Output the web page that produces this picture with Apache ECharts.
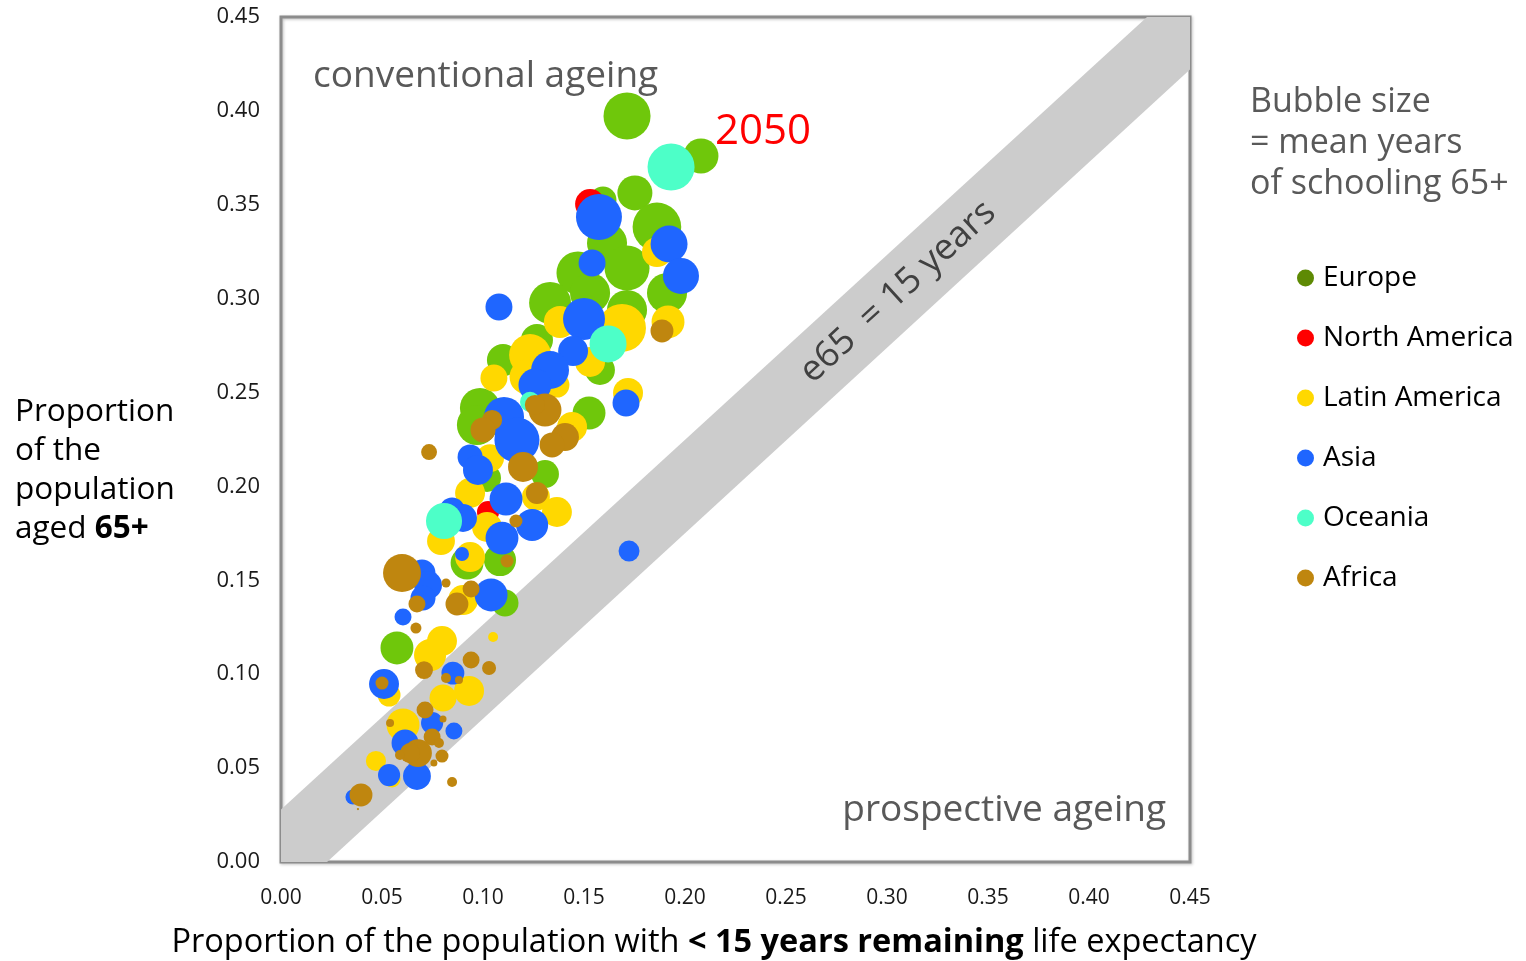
<!DOCTYPE html>
<html>
<head>
<meta charset="utf-8">
<script src="https://cdn.jsdelivr.net/npm/echarts@6/dist/echarts.min.js"></script>
<style>
html,body{margin:0;padding:0;background:#fff;}
#chart{width:1526px;height:961px;}
</style>
</head>
<body>
<div id="chart"></div>
<script>
// ---- data: [x = proportion with <15y remaining LE, y = proportion aged 65+, mean years of schooling 65+]
const regions = ['Europe', 'North America', 'Latin America', 'Asia', 'Oceania', 'Africa'];
const bubbleColors = ['#6FC70B', '#FF0000', '#FFD800', '#1F66FF', '#4DFFC8', '#BF860F'];
const legendColors = ['#5E8A04', '#FF0000', '#FFD800', '#1F66FF', '#4DFFC8', '#BF860F'];

const europe = [
  [0.1713,0.3973,13.1],[0.2079,0.3760,7.25],[0.1752,0.3563,7.25],[0.1594,0.3525,4.3],
  [0.1861,0.3382,14.0],[0.1614,0.3296,9.5],[0.1470,0.3137,10.9],[0.1713,0.3163,12.0],
  [0.1911,0.3030,9.5],[0.1332,0.2977,10.4],[0.1530,0.3030,9.5],[0.1713,0.2940,9.5],
  [0.1267,0.2780,6.1],[0.1099,0.2673,6.1],[0.1579,0.2620,5.3],[0.0985,0.2418,9.5],
  [0.0970,0.2327,9.5],[0.1525,0.2391,6.4],[0.1307,0.2066,4.6],[0.1020,0.2045,4.6],
  [0.0921,0.1592,6.4],[0.1084,0.1608,6.1],[0.1109,0.1379,4.3],[0.0574,0.1140,6.4]
];
const northAmerica = [
  [0.1530,0.3504,5.3],[0.1025,0.1864,2.9]
];
const latinAmerica = [
  [0.1861,0.3248,5.3],[0.1381,0.2876,6.1],[0.1688,0.2844,13.6],[0.1916,0.2876,6.4],
  [0.1233,0.2700,10.4],[0.1530,0.2663,5.3],[0.1054,0.2578,4.3],[0.1218,0.2583,7.25],
  [0.1366,0.2540,3.7],[0.1718,0.2498,5.3],[0.1441,0.2317,5.3],[0.1035,0.2151,4.6],
  [0.0936,0.1965,5.3],[0.1262,0.1944,4.6],[0.1366,0.1864,5.3],[0.1020,0.1784,5.3],
  [0.0792,0.1709,4.6],[0.0936,0.1624,5.3],[0.0901,0.1395,5.3],[0.1050,0.1198,0.59],
  [0.0797,0.1177,5.3],[0.0738,0.1102,6.1],[0.0535,0.0889,3.1],[0.0802,0.0873,4.3],
  [0.0931,0.0911,5.3],[0.0604,0.0730,6.4],[0.0470,0.0538,2.4],[0.0550,0.0442,1.7]
];
const asia = [
  [0.1574,0.3435,12.5],[0.1921,0.3291,8.1],[0.1980,0.3121,7.7],[0.1540,0.3190,4.3],
  [0.1079,0.2956,4.3],[0.1500,0.2892,10.4],[0.1446,0.2721,5.3],[0.1332,0.2620,8.5],
  [0.1257,0.2540,6.4],[0.1708,0.2444,4.3],[0.1104,0.2370,9.5],[0.1168,0.2247,12.0],
  [0.0936,0.2157,3.7],[0.0975,0.2088,5.3],[0.1114,0.1933,6.4],[0.1243,0.1795,6.1],
  [0.0847,0.1875,3.7],[0.0901,0.1832,4.6],[0.1094,0.1725,6.4],[0.0896,0.1640,1.16],
  [0.1723,0.1656,2.6],[0.0698,0.1539,4.3],[0.0728,0.1475,4.6],[0.0703,0.1406,3.7],
  [0.1040,0.1422,6.4],[0.0604,0.1305,1.7],[0.0510,0.0948,5.3],[0.0851,0.1006,3.1],
  [0.0748,0.0740,2.9],[0.0856,0.0698,1.7],[0.0614,0.0634,4.3],[0.0535,0.0463,2.9],
  [0.0673,0.0458,4.6],[0.0356,0.0346,1.33]
];
const oceania = [
  [0.1931,0.3701,13.1],[0.1619,0.2759,8.1],[0.1233,0.2450,2.4],[0.0807,0.1816,7.7]
];
const africa = [
  [0.1886,0.2828,3.1],[0.1307,0.2407,6.4],[0.1257,0.2434,2.4],[0.1045,0.2354,2.4],
  [0.1000,0.2301,3.7],[0.1406,0.2263,4.6],[0.1342,0.2221,3.7],[0.0733,0.2183,1.5],
  [0.1198,0.2104,5.3],[0.1267,0.1965,2.9],[0.1163,0.1816,1.0],[0.1119,0.1603,1.0],
  [0.0599,0.1539,8.5],[0.0817,0.1486,0.48],[0.0941,0.1454,1.7],[0.0673,0.1374,1.7],
  [0.0871,0.1374,3.1],[0.0668,0.1246,0.72],[0.0708,0.1022,1.9],[0.0941,0.1076,1.7],
  [0.1030,0.1033,1.16],[0.0500,0.0953,1.0],[0.0817,0.0980,0.59],[0.0881,0.0969,0.38],
  [0.0713,0.0809,1.7],[0.0540,0.0740,0.38],[0.0802,0.0762,0.29],[0.0748,0.0666,1.7],
  [0.0782,0.0634,0.59],[0.0678,0.0580,4.6],[0.0639,0.0580,2.4],[0.0589,0.0570,0.59],
  [0.0797,0.0564,1.0],[0.0757,0.0527,0.29],[0.0847,0.0426,0.59],[0.0396,0.0357,3.1],
  [0.0381,0.0282,0.03]
];
const seriesData = [europe, northAmerica, latinAmerica, asia, oceania, africa];

// e65 = 15 years band (data units): polygon outline
const bandPolygon = [[0,0.028],[0.4287,0.45],[0.45,0.45],[0.45,0.422],[0.0228,0],[0,0]];

const axisTicks = ['0.00','0.05','0.10','0.15','0.20','0.25','0.30','0.35','0.40','0.45'];
const axisMin = 0, axisMax = 0.45, axisStep = 0.05;

const FONT = 'Open Sans';
const chart = echarts.init(document.getElementById('chart'));

const scatterSeries = regions.map((name, i) => ({
  name: name,
  type: 'scatter',
  data: seriesData[i],
  symbolSize: d => 13 * Math.sqrt(d[2]),
  itemStyle: { color: bubbleColors[i], opacity: 1 },
  emphasis: { disabled: true },
  z: 3 + i
}));

const option = {
  animation: false,
  textStyle: { fontFamily: FONT },
  grid: {
    left: 281, top: 17, width: 909, height: 845,
    show: true, borderColor: '#8c8c8c', borderWidth: 3,
    backgroundColor: 'transparent',
    shadowColor: 'rgba(0,0,0,0.25)', shadowBlur: 3, shadowOffsetX: 1, shadowOffsetY: 1
  },
  xAxis: {
    type: 'value', min: axisMin, max: axisMax, interval: axisStep,
    axisLine: { show: false }, axisTick: { show: false }, splitLine: { show: false },
    axisLabel: { fontFamily: FONT, fontSize: 21, color: '#1a1a1a', margin: 26,
      formatter: v => axisTicks[Math.round(v / axisStep)] }
  },
  yAxis: {
    type: 'value', min: axisMin, max: axisMax, interval: axisStep,
    axisLine: { show: false }, axisTick: { show: false }, splitLine: { show: false },
    axisLabel: { fontFamily: FONT, fontSize: 22, color: '#1a1a1a', margin: 21,
      formatter: v => axisTicks[Math.round(v / axisStep)] }
  },
  legend: {
    orient: 'vertical', left: 1292, top: 259,
    icon: 'circle', itemWidth: 17, itemHeight: 17, itemGap: 32,
    textStyle: { fontFamily: FONT, fontSize: 28, color: '#000', padding: [0,0,0,4] },
    selectedMode: false,
    data: regions.map((n, i) => ({ name: n, itemStyle: { color: legendColors[i] } }))
  },
  graphic: [
    { type: 'text', left: 313, top: 58, z: 10,
      style: { text: 'conventional ageing', font: '37px "Open Sans"', fill: '#595959' } },
    { type: 'text', right: 1526 - 1166, top: 792, z: 10,
      style: { text: 'prospective ageing', font: '37px "Open Sans"', fill: '#595959', textAlign: 'right' } },
    { type: 'text', left: 715, top: 111, z: 10,
      style: { text: '2050', font: '42px "Open Sans"', fill: '#FF0000' } },
    { type: 'text', x: 898, y: 292, rotation: 0.742, z: 2,
      style: { text: 'e65  = 15 years', font: '36px "Open Sans"', fill: '#404040', textAlign: 'center', textVerticalAlign: 'middle' } },
    { type: 'text', left: 1250, top: 82, z: 10,
      style: { text: 'Bubble size\n= mean years\nof schooling 65+', font: '34px "Open Sans"', fill: '#595959', lineHeight: 41 } },
    { type: 'text', left: 15, top: 393, z: 10,
      style: {
        text: 'Proportion\nof the\npopulation\naged {b|65+}',
        font: '31.5px "Open Sans"', fill: '#000', lineHeight: 39,
        rich: { b: { fontWeight: 'bold', fontSize: 31.5, fontFamily: FONT, lineHeight: 39 } }
      } },
    { type: 'text', x: 714, y: 943, z: 10,
      style: {
        text: 'Proportion of the population with {b|< 15 years remaining} life expectancy',
        font: '32.5px "Open Sans"', fill: '#000', textAlign: 'center', textVerticalAlign: 'middle',
        rich: { b: { fontWeight: 'bold', fontSize: 32.5, fontFamily: FONT } }
      } }
  ],
  series: [
    {
      type: 'custom',
      name: 'band',
      silent: true,
      z: 1,
      data: [0],
      renderItem: function (params, api) {
        const pts = bandPolygon.map(p => api.coord(p));
        return { type: 'polygon', shape: { points: pts }, style: { fill: '#CCCCCC' } };
      }
    }
  ].concat(scatterSeries)
};
chart.setOption(option);
</script>
</body>
</html>
